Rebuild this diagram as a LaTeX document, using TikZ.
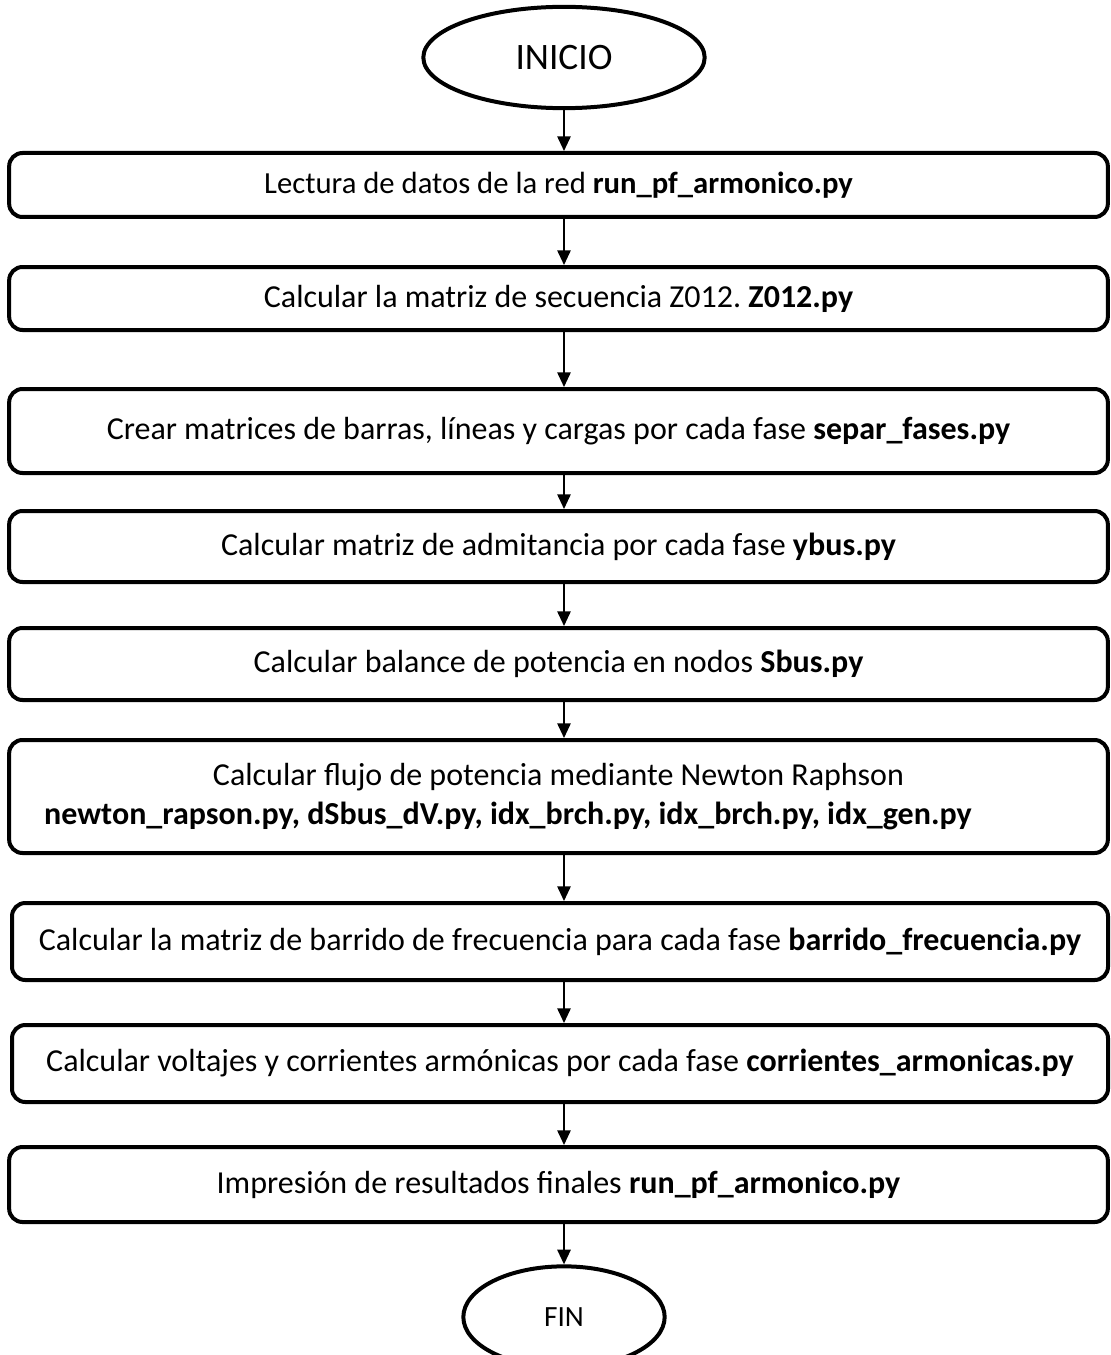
\documentclass[tikz,border=0pt]{standalone}
\usepackage{fontspec}
\setmainfont{Carlito}
\frenchspacing
\usetikzlibrary{shapes.geometric,arrows.meta}
\tikzset{
  stepbox/.style={draw=black, rectangle, rounded corners=10pt, line width=3pt,
    minimum width=824pt, inner sep=0pt, font=\fontsize{24pt}{30pt}\selectfont, align=center},
  termnode/.style={draw=black, ellipse, line width=3pt, inner sep=0pt},
  flow/.style={draw=black, line width=1.3pt, -{Triangle[width=10pt,length=11pt]}}
}
\begin{document}
\begin{tikzpicture}[x=0.75pt,y=-0.75pt]
\useasboundingbox (0,0) rectangle (1110,1355);
\node[termnode, minimum width=211pt, minimum height=76pt, font=\fontsize{28pt}{32pt}\selectfont] (inicio) at (564,57.5) {INICIO};
\node[stepbox, minimum height=48pt, font=\fontsize{23pt}{28pt}\selectfont] (b1) at (558.5,185) {Lectura de datos de la red \textbf{run\_pf\_armonico.py}};
\node[stepbox, minimum height=47.25pt] (b2) at (558.5,298.5) {Calcular la matriz de secuencia Z012. \textbf{Z012.py}};
\node[stepbox, minimum height=63pt] (b3) at (558.5,431) {Crear matrices de barras, líneas y cargas por cada fase \textbf{separ\_fases.py}};
\node[stepbox, minimum height=53.25pt] (b4) at (558.5,546.5) {Calcular matriz de admitancia por cada fase \textbf{ybus.py}};
\node[stepbox, minimum height=54pt] (b5) at (558.5,664) {Calcular balance de potencia en nodos \textbf{Sbus.py}};
\node[stepbox, minimum height=84.75pt] (b6) at (558.5,796.5) {Calcular flujo de potencia mediante Newton Raphson\\[-1pt]\textbf{newton\_rapson.py, dSbus\_dV.py, idx\_brch.py, idx\_brch.py, idx\_gen.py}\hspace*{76pt}};
\node[stepbox, minimum width=822pt, minimum height=57.75pt] (b7) at (560,941.5) {Calcular la matriz de barrido de frecuencia para cada fase \textbf{barrido\_frecuencia.py}};
\node[stepbox, minimum width=822pt, minimum height=57.75pt] (b8) at (560,1063.5) {Calcular voltajes y corrientes armónicas por cada fase \textbf{corrientes\_armonicas.py}};
\node[stepbox, minimum height=56.25pt] (b9) at (558.5,1184.5) {Impresión de resultados finales \textbf{run\_pf\_armonico.py}};
\node[termnode, minimum width=151pt, minimum height=76pt, font=\fontsize{22pt}{26pt}\selectfont] (fin) at (564,1317) {FIN};
\draw[flow] (inicio.south) -- (b1.north -| inicio.south);
\draw[flow] (b1.south -| inicio.south) -- (b2.north -| inicio.south);
\draw[flow] (b2.south -| inicio.south) -- (b3.north -| inicio.south);
\draw[flow] (b3.south -| inicio.south) -- (b4.north -| inicio.south);
\draw[flow] (b4.south -| inicio.south) -- (b5.north -| inicio.south);
\draw[flow] (b5.south -| inicio.south) -- (b6.north -| inicio.south);
\draw[flow] (b6.south -| inicio.south) -- (b7.north -| inicio.south);
\draw[flow] (b7.south -| inicio.south) -- (b8.north -| inicio.south);
\draw[flow] (b8.south -| inicio.south) -- (b9.north -| inicio.south);
\draw[flow] (b9.south -| inicio.south) -- (fin.north);
\end{tikzpicture}
\end{document}
